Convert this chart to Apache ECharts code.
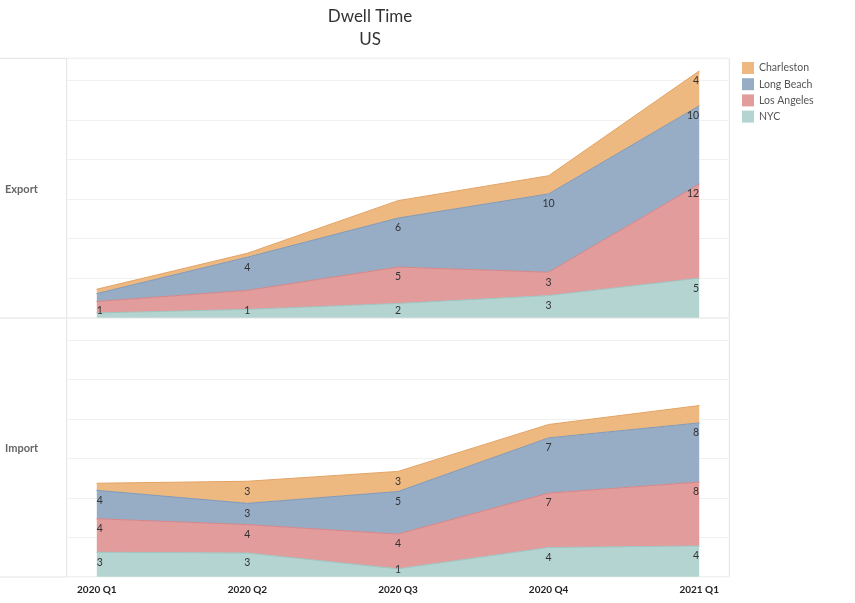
<!DOCTYPE html>
<html>
<head>
<meta charset="utf-8">
<script src="https://cdn.jsdelivr.net/npm/echarts@6/dist/echarts.min.js"></script>
<style>
html,body{margin:0;padding:0;background:#fff;}
#chart{width:855px;height:603px;}
</style>
</head>
<body>
<div id="chart"></div>
<script>
// ---- data ----
const categories = ['2020 Q1', '2020 Q2', '2020 Q3', '2020 Q4', '2021 Q1'];
const seriesNames = ['NYC', 'Los Angeles', 'Long Beach', 'Charleston'];
const legendOrder = ['Charleston', 'Long Beach', 'Los Angeles', 'NYC'];
const rowNames = ['Export', 'Import'];

const exportNYC         = [0.6, 1.05, 1.8, 2.8, 5.0];
const exportLosAngeles  = [1.45, 2.4, 4.6, 2.95, 11.9];
const exportLongBeach   = [1.0, 4.2, 6.2, 9.9, 9.9];
const exportCharleston  = [0.55, 0.5, 2.2, 2.3, 4.4];

const importNYC         = [3.1, 3.0, 1.0, 3.7, 3.9];
const importLosAngeles  = [4.25, 3.6, 4.4, 6.9, 8.1];
const importLongBeach   = [3.6, 2.7, 5.4, 7.0, 7.5];
const importCharleston  = [0.9, 2.8, 2.55, 1.7, 2.2];

// which value labels are displayed (1 = shown)
const exportLabelsNYC        = [0, 1, 1, 1, 1];
const exportLabelsLosAngeles = [1, 0, 1, 1, 1];
const exportLabelsLongBeach  = [0, 1, 1, 1, 1];
const exportLabelsCharleston = [0, 0, 0, 0, 1];
const importLabelsNYC        = [1, 1, 1, 1, 1];
const importLabelsLosAngeles = [1, 1, 1, 1, 1];
const importLabelsLongBeach  = [1, 1, 1, 1, 1];
const importLabelsCharleston = [0, 1, 1, 0, 0];

// ---- styling ----
const fills = { 'NYC': '#b4d4d1', 'Los Angeles': '#e39c9c', 'Long Beach': '#97adc6', 'Charleston': '#eeb981' };
const edges = { 'NYC': '#9cc6c2', 'Los Angeles': '#d88585', 'Long Beach': '#7f99b8', 'Charleston': '#e3a466' };
const FONT = 'Lato, "Open Sans", sans-serif';

const W = 855;
const frameLeft = 66.7, frameRight = 729.3;
const dataLeft = 96.8, dataRight = 699.2;
const rows = [
  { top: 58.3, height: 259.4 },
  { top: 318, height: 258.7 }
];
const yMax = 32.8;

const rowData = [
  [exportNYC, exportLosAngeles, exportLongBeach, exportCharleston],
  [importNYC, importLosAngeles, importLongBeach, importCharleston]
];
const rowLabels = [
  [exportLabelsNYC, exportLabelsLosAngeles, exportLabelsLongBeach, exportLabelsCharleston],
  [importLabelsNYC, importLabelsLosAngeles, importLabelsLongBeach, importLabelsCharleston]
];

const grid = [], xAxis = [], yAxis = [], series = [];
// frame grids (0,1): border + horizontal gridlines
rows.forEach((r, gi) => {
  grid.push({
    left: frameLeft, right: W - frameRight, top: r.top, height: r.height,
    show: true, borderColor: '#e2e2e2', borderWidth: 1, backgroundColor: 'transparent'
  });
  xAxis.push({
    type: 'category', gridIndex: gi, data: categories, show: false
  });
  yAxis.push({
    type: 'value', gridIndex: gi, min: 0, max: yMax, interval: 5,
    axisLine: { show: false }, axisTick: { show: false }, axisLabel: { show: false },
    splitLine: { show: true, lineStyle: { color: '#f1f1f1', width: 1 } }
  });
});
// data grids (2,3)
rows.forEach((r, ri) => {
  const gi = ri + 2;
  grid.push({
    left: dataLeft, right: W - dataRight, top: r.top, height: r.height, show: false
  });
  xAxis.push({
    type: 'category', gridIndex: gi, data: categories, boundaryGap: false,
    axisLine: { show: false }, axisTick: { show: false }, splitLine: { show: false },
    axisLabel: {
      show: ri === 1, interval: 0, margin: 8, color: '#222', fontWeight: 'bold',
      fontSize: 10, fontFamily: FONT
    }
  });
  yAxis.push({
    type: 'value', gridIndex: gi, min: 0, max: yMax, interval: 5,
    axisLine: { show: false }, axisTick: { show: false }, axisLabel: { show: false },
    splitLine: { show: false }
  });
  const ppu = r.height / yMax;
  const cum = [0, 0, 0, 0, 0];
  seriesNames.forEach((name, si) => {
    const vals = rowData[ri][si];
    const shown = rowLabels[ri][si];
    const data = vals.map((v, i) => {
      cum[i] += v;
      const hPx = cum[i] * ppu;
      const shift = hPx < 17 ? -(17 - hPx) : 0;
      return {
        value: v,
        label: {
          show: !!shown[i],
          align: i === 0 ? 'left' : (i === vals.length - 1 ? 'right' : 'center'),
          offset: [0, shift]
        }
      };
    });
    series.push({
      name: name, type: 'line', xAxisIndex: gi, yAxisIndex: gi,
      stack: 'row' + ri, data: data,
      symbol: 'circle', symbolSize: 1, showSymbol: true,
      itemStyle: { color: fills[name] },
      lineStyle: { color: edges[name], width: 1 },
      areaStyle: { color: fills[name], opacity: 1 },
      label: {
        show: true, position: 'bottom', distance: 4,
        formatter: p => String(Math.round(p.value)),
        color: '#333', fontSize: 10.5, fontFamily: FONT
      },
      emphasis: { disabled: true },
      silent: true
    });
  });
});

const graphic = [];
[58.3, 318, 577].forEach(y => {
  graphic.push({ type: 'line', shape: { x1: 0, y1: y, x2: frameLeft, y2: y },
    style: { stroke: '#e2e2e2', lineWidth: 1 }, silent: true });
});
rowNames.forEach((n, i) => {
  graphic.push({ type: 'text', x: 5, y: rows[i].top + rows[i].height / 2 + 1.5,
    style: { text: n, fill: '#666', font: 'bold 11px ' + FONT, verticalAlign: 'middle' }, silent: true });
});

const option = {
  animation: false,
  title: {
    text: 'Dwell Time\nUS', left: 365, top: 0, textAlign: 'center',
    textStyle: { fontSize: 17, fontWeight: 'normal', color: '#333', lineHeight: 23, fontFamily: FONT }
  },
  legend: {
    orient: 'vertical', left: 742, top: 62, padding: 0, icon: 'rect',
    itemWidth: 12, itemHeight: 12, itemGap: 4.2,
    data: legendOrder.map(n => ({ name: n, itemStyle: { color: fills[n], opacity: 1 } })),
    textStyle: { fontSize: 10.5, color: '#555', fontFamily: FONT },
    selectedMode: false
  },
  grid, xAxis, yAxis, series, graphic
};

const chart = echarts.init(document.getElementById('chart'), null, { renderer: 'canvas' });
chart.setOption(option);
</script>
</body>
</html>
